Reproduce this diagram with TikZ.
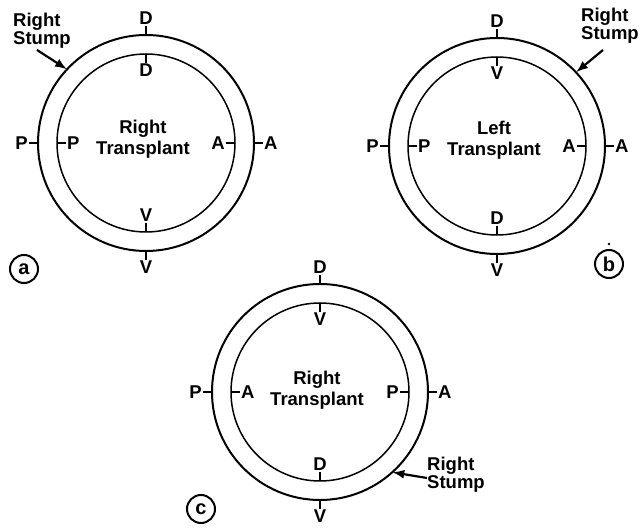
\documentclass[tikz,border=0pt]{standalone}
\usepackage{fontspec}
\setmainfont{Liberation Sans}
\usetikzlibrary{arrows.meta,calc}
\tikzset{
  outerring/.style={circle, draw, line width=2pt, minimum size=216pt, inner sep=0pt, outer sep=0pt},
  innerring/.style={circle, draw, line width=1.5pt, minimum size=178pt, inner sep=0pt, outer sep=0pt},
  lbl/.style={font=\fontsize{18.5}{21}\selectfont\bfseries, inner sep=1pt},
  titletext/.style={font=\fontsize{18.5}{21}\selectfont\bfseries, align=center, inner sep=0pt},
  stumptext/.style={font=\fontsize{18.5}{18}\selectfont\bfseries, align=left, inner sep=0pt, anchor=north west},
  ticksty/.style={line width=1.5pt},
  pointer/.style={line width=2.2pt, -{Latex[length=12pt,width=9pt]}},
  panel/.style={circle, draw, line width=2pt, minimum size=28pt, inner sep=0pt, font=\fontsize{20}{20}\selectfont\bfseries}
}
\begin{document}
\begin{tikzpicture}[x=1pt,y=-1pt]
\useasboundingbox (0,0) rectangle (641,529);
% ---------- (a)
\node[outerring] (aout) at (146,143) {};
\node[innerring] (ain) at (146,143) {};
\node[lbl, anchor=south] (aDo) at ($(aout.north)+(0,-9)$) {D};
\node[lbl, anchor=east]  (aPo) at ($(aout.west)+(-9,0)$) {P};
\node[lbl, anchor=west]  (aAo) at ($(aout.east)+(9,0)$) {A};
\node[lbl, anchor=north] (aVo) at ($(aout.south)+(0,9)$) {V};
\node[lbl, anchor=north] (aDi) at ($(ain.north)+(0,9)$) {D};
\node[lbl, anchor=west]  (aPi) at ($(ain.west)+(9,0)$) {P};
\node[lbl, anchor=east]  (aAi) at ($(ain.east)+(-9,0)$) {A};
\node[lbl, anchor=south] (aVi) at ($(ain.south)+(0,-9)$) {V};
\draw[ticksty] (aout.north) -- (aDo.south);
\draw[ticksty] (aout.west) -- (aPo.east);
\draw[ticksty] (aout.east) -- (aAo.west);
\draw[ticksty] (aout.south) -- (aVo.north);
\draw[ticksty] (ain.north) -- (aDi.north);
\draw[ticksty] (ain.west) -- (aPi.west);
\draw[ticksty] (ain.east) -- (aAi.east);
\draw[ticksty] (ain.south) -- (aVi.south);
\node[titletext] (atitle) at (143,139) {Right\\Transplant};
\node[stumptext] (aRS) at (13,13) {Right\\Stump};
\coordinate (atail) at (37,50);
\draw[pointer] (atail) -- (aout.137);
\node[panel] (apanel) at (24,269) {a};
% ---------- (b)
\node[outerring] (bout) at (497,146) {};
\node[innerring] (bin) at (497,146) {};
\node[lbl, anchor=south] (bDo) at ($(bout.north)+(0,-9)$) {D};
\node[lbl, anchor=east]  (bPo) at ($(bout.west)+(-9,0)$) {P};
\node[lbl, anchor=west]  (bAo) at ($(bout.east)+(9,0)$) {A};
\node[lbl, anchor=north] (bVo) at ($(bout.south)+(0,9)$) {V};
\node[lbl, anchor=north] (bVi) at ($(bin.north)+(0,9)$) {V};
\node[lbl, anchor=west]  (bPi) at ($(bin.west)+(9,0)$) {P};
\node[lbl, anchor=east]  (bAi) at ($(bin.east)+(-9,0)$) {A};
\node[lbl, anchor=south] (bDi) at ($(bin.south)+(0,-9)$) {D};
\draw[ticksty] (bout.north) -- (bDo.south);
\draw[ticksty] (bout.west) -- (bPo.east);
\draw[ticksty] (bout.east) -- (bAo.west);
\draw[ticksty] (bout.south) -- (bVo.north);
\draw[ticksty] (bin.north) -- (bVi.north);
\draw[ticksty] (bin.west) -- (bPi.west);
\draw[ticksty] (bin.east) -- (bAi.east);
\draw[ticksty] (bin.south) -- (bDi.south);
\node[titletext] (btitle) at (494,140) {Left\\Transplant};
\node[stumptext] (bRS) at (581,8) {Right\\Stump};
\coordinate (btail) at (603,50);
\draw[pointer] (btail) -- (bout.43);
\node[panel] (bpanel) at (609,264) {b};
\fill (609,244) circle (1.3pt);
% ---------- (c)
\node[outerring] (cout) at (320,392) {};
\node[innerring] (cin) at (320,392) {};
\node[lbl, anchor=south] (cDo) at ($(cout.north)+(0,-9)$) {D};
\node[lbl, anchor=east]  (cPo) at ($(cout.west)+(-9,0)$) {P};
\node[lbl, anchor=west]  (cAo) at ($(cout.east)+(9,0)$) {A};
\node[lbl, anchor=north] (cVo) at ($(cout.south)+(0,9)$) {V};
\node[lbl, anchor=north] (cVi) at ($(cin.north)+(0,9)$) {V};
\node[lbl, anchor=west]  (cAi) at ($(cin.west)+(9,0)$) {A};
\node[lbl, anchor=east]  (cPi) at ($(cin.east)+(-9,0)$) {P};
\node[lbl, anchor=south] (cDi) at ($(cin.south)+(0,-9)$) {D};
\draw[ticksty] (cout.north) -- (cDo.south);
\draw[ticksty] (cout.west) -- (cPo.east);
\draw[ticksty] (cout.east) -- (cAo.west);
\draw[ticksty] (cout.south) -- (cVo.north);
\draw[ticksty] (cin.north) -- (cVi.north);
\draw[ticksty] (cin.west) -- (cAi.west);
\draw[ticksty] (cin.east) -- (cPi.east);
\draw[ticksty] (cin.south) -- (cDi.south);
\node[titletext] (ctitle) at (317,390) {Right\\Transplant};
\node[stumptext] (cRS) at (427,457) {Right\\Stump};
\coordinate (ctail) at (427,478);
\draw[pointer] (ctail) -- (cout.312);
\node[panel] (cpanel) at (201,509) {c};
\end{tikzpicture}
\end{document}
